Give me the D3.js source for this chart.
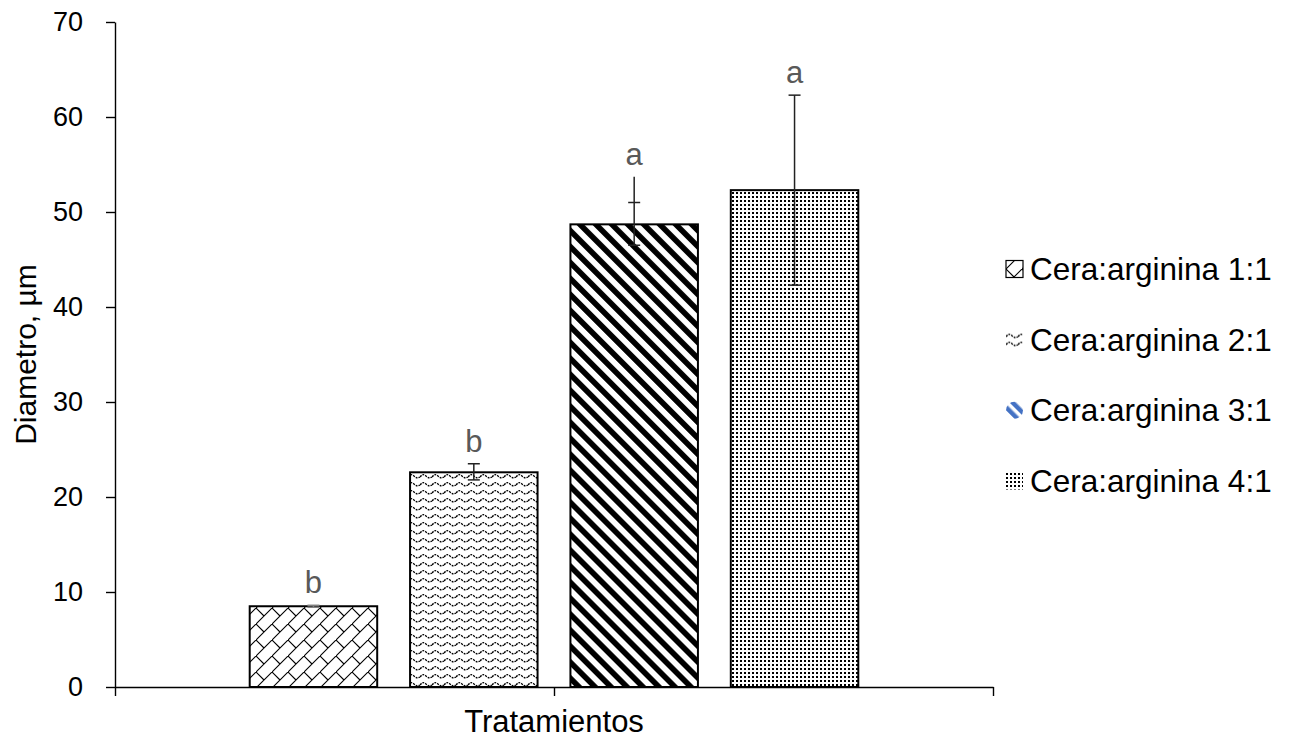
<!DOCTYPE html>
<html>
<head>
<meta charset="utf-8">
<script src="https://cdn.jsdelivr.net/npm/d3@7"></script>
<style>
  body { margin: 0; background: #fff; }
  text { font-family: "Liberation Sans", Arial, sans-serif; }
</style>
</head>
<body>
<div id="chart"></div>
<script>
// data
var categories = ["Cera:arginina 1:1", "Cera:arginina 2:1", "Cera:arginina 3:1", "Cera:arginina 4:1"];
var values = [8.5, 22.6, 48.7, 52.3];
var errLow = [0.1, 0.8, 2.2, 10.0];
var errHigh = [0.1, 0.9, 2.3, 10.0];
var extraHigh = [0, 0, 2.7, 0];   // second, uncapped upper bar on 3:1
var letters = ["b", "b", "a", "a"];
var yTicks = [0, 10, 20, 30, 40, 50, 60, 70];
var patternIds = ["p1", "p2", "p3", "p4"];

var width = 1289, height = 740;
var margin = { top: 22, left: 115, right: 296, bottom: 53 };

var svg = d3.select("#chart").append("svg")
    .attr("width", width)
    .attr("height", height);

// patterns
var defs = svg.append("defs");

// diagonal brick
var p1 = defs.append("pattern").attr("id", "p1")
    .attr("patternUnits", "userSpaceOnUse").attr("width", 16).attr("height", 16);
p1.append("rect").attr("width", 16).attr("height", 16).attr("fill", "#fff");
p1.append("path").attr("d", "M-2,18 L18,-2 M0,0 L8,8")
    .attr("stroke", "#000").attr("stroke-width", 1.1).attr("fill", "none");

// wave
var p2 = defs.append("pattern").attr("id", "p2")
    .attr("patternUnits", "userSpaceOnUse").attr("width", 12).attr("height", 8);
p2.append("rect").attr("width", 12).attr("height", 8).attr("fill", "#fff");
p2.append("path").attr("d", "M0,5 Q3,1 6,4 T12,5")
    .attr("stroke", "#000").attr("stroke-width", 1.3).attr("fill", "none")
    .attr("stroke-dasharray", "2,1");

// wide downward diagonal
var p3 = defs.append("pattern").attr("id", "p3")
    .attr("patternUnits", "userSpaceOnUse").attr("width", 11.3).attr("height", 11.3)
    .attr("patternTransform", "rotate(-45)");
p3.append("rect").attr("width", 11.3).attr("height", 11.3).attr("fill", "#fff");
p3.append("rect").attr("width", 5.6).attr("height", 11.3).attr("fill", "#000");

// dotted
var p4 = defs.append("pattern").attr("id", "p4")
    .attr("patternUnits", "userSpaceOnUse").attr("width", 4).attr("height", 4);
p4.append("rect").attr("width", 4).attr("height", 4).attr("fill", "#fff");
p4.append("rect").attr("width", 2).attr("height", 2).attr("fill", "#000");

// blue diagonal used by the 3:1 legend key
var p3b = defs.append("pattern").attr("id", "p3b")
    .attr("patternUnits", "userSpaceOnUse").attr("width", 8).attr("height", 8)
    .attr("patternTransform", "rotate(-45)");
p3b.append("rect").attr("width", 8).attr("height", 8).attr("fill", "#fff");
p3b.append("rect").attr("width", 4.5).attr("height", 8).attr("fill", "#4472c4");

// scales
var x0 = margin.left, x1 = width - margin.right;
var x = d3.scaleBand()
    .domain(categories)
    .range([x0, x1])
    .paddingInner(0.205)
    .paddingOuter(0.84);

var y = d3.scaleLinear()
    .domain([0, 70])
    .range([height - margin.bottom, margin.top]);

// y axis
var yAxis = svg.append("g")
    .attr("transform", "translate(" + x0 + ",0)")
    .call(d3.axisLeft(y).tickValues(yTicks).tickSize(9).tickPadding(23).tickSizeOuter(0));
yAxis.select(".domain").attr("stroke", "#000").attr("stroke-width", 1.4);
yAxis.selectAll(".tick line").attr("stroke", "#000").attr("stroke-width", 1.4);
yAxis.selectAll(".tick text")
    .attr("font-size", 27)
    .attr("font-family", "'Liberation Sans', Arial, sans-serif")
    .attr("fill", "#000");

// bars
svg.selectAll("rect.bar")
    .data(values)
    .enter()
    .append("rect")
    .attr("class", "bar")
    .attr("x", function (d, i) { return x(categories[i]); })
    .attr("y", function (d) { return y(d); })
    .attr("width", x.bandwidth())
    .attr("height", function (d) { return y(0) - y(d); })
    .attr("fill", function (d, i) { return "url(#" + patternIds[i] + ")"; })
    .attr("stroke", "#000")
    .attr("stroke-width", 2);

// x axis (category axis with ticks at both ends and middle)
var xPos = d3.scaleLinear().domain([0, 1]).range([x0, x1]);
var xAxis = svg.append("g")
    .attr("transform", "translate(0," + y(0) + ")")
    .call(d3.axisBottom(xPos).tickValues([0, 0.5, 1]).tickSize(9).tickSizeOuter(0).tickFormat(""));
xAxis.select(".domain").attr("stroke", "#000").attr("stroke-width", 1.4);
xAxis.selectAll(".tick line").attr("stroke", "#000").attr("stroke-width", 1.4);

// error bars
var errs = svg.append("g");
values.forEach(function (v, i) {
    var cx = x(categories[i]) + x.bandwidth() / 2;
    var top = v + errHigh[i] + extraHigh[i];
    var col = i === 0 ? "#7f7f7f" : "#222";
    errs.append("line")
        .attr("x1", cx).attr("x2", cx)
        .attr("y1", y(top)).attr("y2", y(v - errLow[i]))
        .attr("stroke", col).attr("stroke-width", 1.5);
    [v + errHigh[i], v - errLow[i]].forEach(function (e) {
        errs.append("line")
            .attr("x1", cx - 6).attr("x2", cx + 6)
            .attr("y1", y(e)).attr("y2", y(e))
            .attr("stroke", col).attr("stroke-width", 1.5);
    });
});

// significance letters
svg.selectAll("text.letter")
    .data(letters)
    .enter()
    .append("text")
    .attr("class", "letter")
    .attr("x", function (d, i) { return x(categories[i]) + x.bandwidth() / 2; })
    .attr("y", function (d, i) { return y(values[i] + errHigh[i] + extraHigh[i]) - 12; })
    .attr("text-anchor", "middle")
    .attr("font-size", 31)
    .attr("fill", "#595959")
    .text(function (d) { return d; });

// axis titles
svg.append("text")
    .attr("transform", "translate(36," + ((y(0) + y(70)) / 2) + ") rotate(-90)")
    .attr("text-anchor", "middle")
    .attr("font-size", 30)
    .attr("fill", "#000")
    .text("Diametro, µm");

svg.append("text")
    .attr("x", xPos(0.5))
    .attr("y", 732)
    .attr("text-anchor", "middle")
    .attr("font-size", 31)
    .attr("fill", "#000")
    .text("Tratamientos");

// legend
var legend = svg.append("g").attr("transform", "translate(1006,0)");
var legY = d3.scalePoint().domain(categories).range([269, 481]);
var legItems = legend.selectAll("g.item")
    .data(categories)
    .enter()
    .append("g")
    .attr("class", "item")
    .attr("transform", function (d) { return "translate(0," + legY(d) + ")"; });

legItems.append("rect")
    .attr("x", 0)
    .attr("y", -8.5)
    .attr("width", 17)
    .attr("height", 17)
    .attr("fill", function (d, i) { return i === 2 ? "url(#p3b)" : "url(#" + patternIds[i] + ")"; })
    .attr("stroke", function (d, i) { return i === 0 ? "#000" : "none"; })
    .attr("stroke-width", 1.2)
    .attr("rx", function (d, i) { return i === 2 ? 8.5 : 0; });

legItems.append("text")
    .attr("x", 24)
    .attr("y", 0)
    .attr("dy", "0.35em")
    .attr("font-size", 31.5)
    .attr("fill", "#000")
    .text(function (d) { return d; });
</script>
</body>
</html>
